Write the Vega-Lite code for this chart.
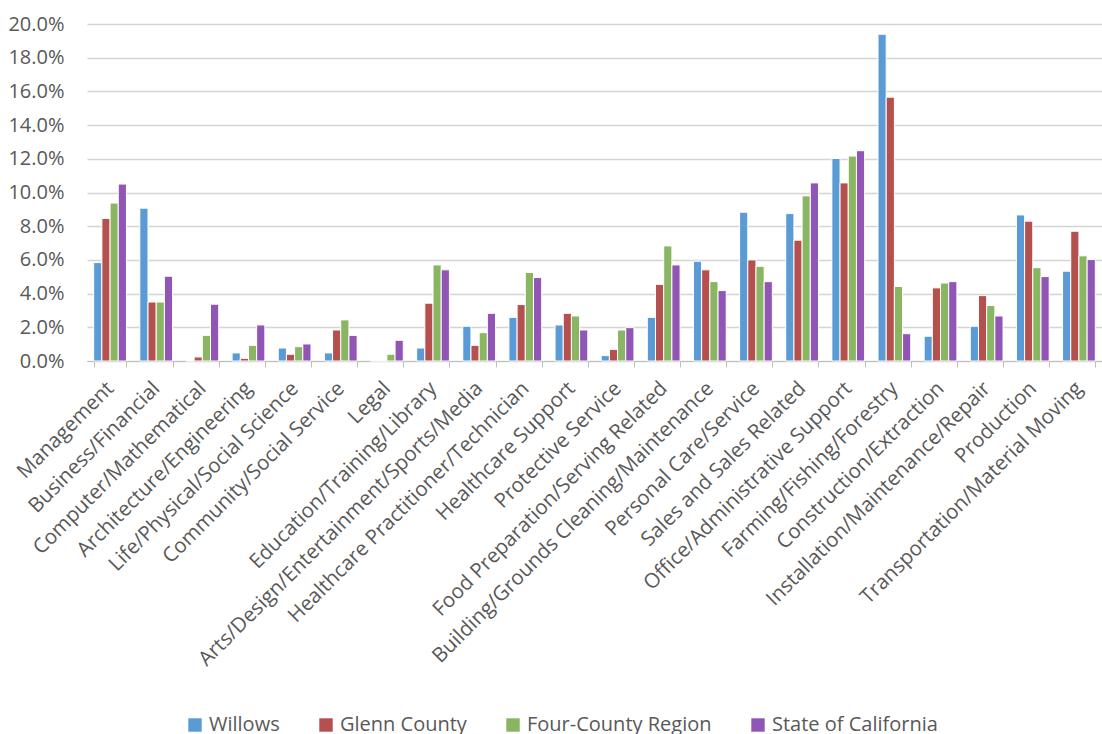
{
  "$schema": "https://vega.github.io/schema/vega-lite/v6.json",
  "width": 1015,
  "height": 337,
  "autosize": {"type": "none"},
  "padding": {"left": 87, "top": 24, "right": 0, "bottom": 373},
  "background": "white",
  "config": {
    "view": {"stroke": null},
    "font": "Open Sans",
    "axis": {"labelColor": "#595959", "labelFont": "Open Sans", "title": null},
    "legend": {"labelColor": "#595959", "labelFont": "Open Sans"}
  },
  "data": {
    "values": [
      {"occ": "Management", "geo": "Willows", "v": 0.0584},
      {"occ": "Management", "geo": "Glenn County", "v": 0.0846},
      {"occ": "Management", "geo": "Four-County Region", "v": 0.0937},
      {"occ": "Management", "geo": "State of California", "v": 0.105},
      {"occ": "Business/Financial", "geo": "Willows", "v": 0.0907},
      {"occ": "Business/Financial", "geo": "Glenn County", "v": 0.035},
      {"occ": "Business/Financial", "geo": "Four-County Region", "v": 0.035},
      {"occ": "Business/Financial", "geo": "State of California", "v": 0.0503},
      {"occ": "Computer/Mathematical", "geo": "Willows", "v": 0},
      {"occ": "Computer/Mathematical", "geo": "Glenn County", "v": 0.0024},
      {"occ": "Computer/Mathematical", "geo": "Four-County Region", "v": 0.0152},
      {"occ": "Computer/Mathematical", "geo": "State of California", "v": 0.0337},
      {"occ": "Architecture/Engineering", "geo": "Willows", "v": 0.0048},
      {"occ": "Architecture/Engineering", "geo": "Glenn County", "v": 0.0016},
      {"occ": "Architecture/Engineering", "geo": "Four-County Region", "v": 0.0093},
      {"occ": "Architecture/Engineering", "geo": "State of California", "v": 0.0214},
      {"occ": "Life/Physical/Social Science", "geo": "Willows", "v": 0.0077},
      {"occ": "Life/Physical/Social Science", "geo": "Glenn County", "v": 0.004},
      {"occ": "Life/Physical/Social Science", "geo": "Four-County Region", "v": 0.0085},
      {"occ": "Life/Physical/Social Science", "geo": "State of California", "v": 0.0101},
      {"occ": "Community/Social Service", "geo": "Willows", "v": 0.0048},
      {"occ": "Community/Social Service", "geo": "Glenn County", "v": 0.0184},
      {"occ": "Community/Social Service", "geo": "Four-County Region", "v": 0.0244},
      {"occ": "Community/Social Service", "geo": "State of California", "v": 0.0152},
      {"occ": "Legal", "geo": "Willows", "v": 0},
      {"occ": "Legal", "geo": "Glenn County", "v": 0},
      {"occ": "Legal", "geo": "Four-County Region", "v": 0.004},
      {"occ": "Legal", "geo": "State of California", "v": 0.0123},
      {"occ": "Education/Training/Library", "geo": "Willows", "v": 0.0077},
      {"occ": "Education/Training/Library", "geo": "Glenn County", "v": 0.0343},
      {"occ": "Education/Training/Library", "geo": "Four-County Region", "v": 0.057},
      {"occ": "Education/Training/Library", "geo": "State of California", "v": 0.0541},
      {"occ": "Arts/Design/Entertainment/Sports/Media", "geo": "Willows", "v": 0.0206},
      {"occ": "Arts/Design/Entertainment/Sports/Media", "geo": "Glenn County", "v": 0.0093},
      {"occ": "Arts/Design/Entertainment/Sports/Media", "geo": "Four-County Region", "v": 0.0168},
      {"occ": "Arts/Design/Entertainment/Sports/Media", "geo": "State of California", "v": 0.0283},
      {"occ": "Healthcare Practitioner/Technician", "geo": "Willows", "v": 0.0259},
      {"occ": "Healthcare Practitioner/Technician", "geo": "Glenn County", "v": 0.0335},
      {"occ": "Healthcare Practitioner/Technician", "geo": "Four-County Region", "v": 0.0525},
      {"occ": "Healthcare Practitioner/Technician", "geo": "State of California", "v": 0.0495},
      {"occ": "Healthcare Support", "geo": "Willows", "v": 0.0214},
      {"occ": "Healthcare Support", "geo": "Glenn County", "v": 0.0283},
      {"occ": "Healthcare Support", "geo": "Four-County Region", "v": 0.0267},
      {"occ": "Healthcare Support", "geo": "State of California", "v": 0.0184},
      {"occ": "Protective Service", "geo": "Willows", "v": 0.0032},
      {"occ": "Protective Service", "geo": "Glenn County", "v": 0.0069},
      {"occ": "Protective Service", "geo": "Four-County Region", "v": 0.0184},
      {"occ": "Protective Service", "geo": "State of California", "v": 0.0198},
      {"occ": "Food Preparation/Serving Related", "geo": "Willows", "v": 0.0259},
      {"occ": "Food Preparation/Serving Related", "geo": "Glenn County", "v": 0.0455},
      {"occ": "Food Preparation/Serving Related", "geo": "Four-County Region", "v": 0.0683},
      {"occ": "Food Preparation/Serving Related", "geo": "State of California", "v": 0.057},
      {"occ": "Building/Grounds Cleaning/Maintenance", "geo": "Willows", "v": 0.0592},
      {"occ": "Building/Grounds Cleaning/Maintenance", "geo": "Glenn County", "v": 0.0541},
      {"occ": "Building/Grounds Cleaning/Maintenance", "geo": "Four-County Region", "v": 0.0471},
      {"occ": "Building/Grounds Cleaning/Maintenance", "geo": "State of California", "v": 0.0418},
      {"occ": "Personal Care/Service", "geo": "Willows", "v": 0.0883},
      {"occ": "Personal Care/Service", "geo": "Glenn County", "v": 0.06},
      {"occ": "Personal Care/Service", "geo": "Four-County Region", "v": 0.0562},
      {"occ": "Personal Care/Service", "geo": "State of California", "v": 0.0471},
      {"occ": "Sales and Sales Related", "geo": "Willows", "v": 0.0875},
      {"occ": "Sales and Sales Related", "geo": "Glenn County", "v": 0.0717},
      {"occ": "Sales and Sales Related", "geo": "Four-County Region", "v": 0.098},
      {"occ": "Sales and Sales Related", "geo": "State of California", "v": 0.1057},
      {"occ": "Office/Administrative Support", "geo": "Willows", "v": 0.1202},
      {"occ": "Office/Administrative Support", "geo": "Glenn County", "v": 0.1057},
      {"occ": "Office/Administrative Support", "geo": "Four-County Region", "v": 0.1216},
      {"occ": "Office/Administrative Support", "geo": "State of California", "v": 0.1248},
      {"occ": "Farming/Fishing/Forestry", "geo": "Willows", "v": 0.1939},
      {"occ": "Farming/Fishing/Forestry", "geo": "Glenn County", "v": 0.1566},
      {"occ": "Farming/Fishing/Forestry", "geo": "Four-County Region", "v": 0.0442},
      {"occ": "Farming/Fishing/Forestry", "geo": "State of California", "v": 0.0162},
      {"occ": "Construction/Extraction", "geo": "Willows", "v": 0.0147},
      {"occ": "Construction/Extraction", "geo": "Glenn County", "v": 0.0434},
      {"occ": "Construction/Extraction", "geo": "Four-County Region", "v": 0.0463},
      {"occ": "Construction/Extraction", "geo": "State of California", "v": 0.0471},
      {"occ": "Installation/Maintenance/Repair", "geo": "Willows", "v": 0.0206},
      {"occ": "Installation/Maintenance/Repair", "geo": "Glenn County", "v": 0.0388},
      {"occ": "Installation/Maintenance/Repair", "geo": "Four-County Region", "v": 0.0329},
      {"occ": "Installation/Maintenance/Repair", "geo": "State of California", "v": 0.0267},
      {"occ": "Production", "geo": "Willows", "v": 0.0867},
      {"occ": "Production", "geo": "Glenn County", "v": 0.083},
      {"occ": "Production", "geo": "Four-County Region", "v": 0.0554},
      {"occ": "Production", "geo": "State of California", "v": 0.0501},
      {"occ": "Transportation/Material Moving", "geo": "Willows", "v": 0.0533},
      {"occ": "Transportation/Material Moving", "geo": "Glenn County", "v": 0.077},
      {"occ": "Transportation/Material Moving", "geo": "Four-County Region", "v": 0.0624},
      {"occ": "Transportation/Material Moving", "geo": "State of California", "v": 0.0602}
    ]
  },
  "mark": {"type": "bar", "stroke": "white", "strokeWidth": 1},
  "encoding": {
    "x": {
      "field": "occ",
      "type": "nominal",
      "sort": null,
      "scale": {"paddingInner": 0.29, "paddingOuter": 0.145},
      "axis": {
        "labelAngle": -45,
        "labelAlign": "right",
        "labelBaseline": "middle",
        "labelFontSize": 20.5,
        "labelPadding": 18,
        "labelOverlap": false,
        "labelLimit": 600,
        "tickBand": "extent",
        "tickSize": 6,
        "tickColor": "#bfbfbf",
        "domainColor": "#bfbfbf",
        "domainWidth": 1.2,
        "grid": false
      }
    },
    "xOffset": {
      "field": "geo",
      "type": "nominal",
      "sort": ["Willows", "Glenn County", "Four-County Region", "State of California"],
      "scale": {"paddingInner": 0, "paddingOuter": 0}
    },
    "y": {
      "field": "v",
      "type": "quantitative",
      "scale": {"domain": [0, 0.2], "nice": false},
      "axis": {
        "values": [0, 0.02, 0.04, 0.06, 0.08, 0.1, 0.12, 0.14, 0.16, 0.18, 0.2],
        "format": ".1%",
        "labelFontSize": 20,
        "labelPadding": 23,
        "ticks": false,
        "domain": false,
        "grid": true,
        "gridColor": "#d4d4d4",
        "gridWidth": 1.4
      }
    },
    "color": {
      "field": "geo",
      "type": "nominal",
      "sort": ["Willows", "Glenn County", "Four-County Region", "State of California"],
      "scale": {
        "domain": ["Willows", "Glenn County", "Four-County Region", "State of California"],
        "range": ["#5B9BD5", "#B4504E", "#8AB562", "#9055B5"]
      },
      "legend": {
        "title": null,
        "orient": "none",
        "direction": "horizontal",
        "legendX": 98,
        "legendY": 691,
        "symbolType": "square",
        "symbolSize": 180,
        "symbolStrokeWidth": 0,
        "labelFontSize": 20,
        "labelLimit": 400,
        "labelOffset": 4,
        "columnPadding": 36
      }
    }
  }
}
